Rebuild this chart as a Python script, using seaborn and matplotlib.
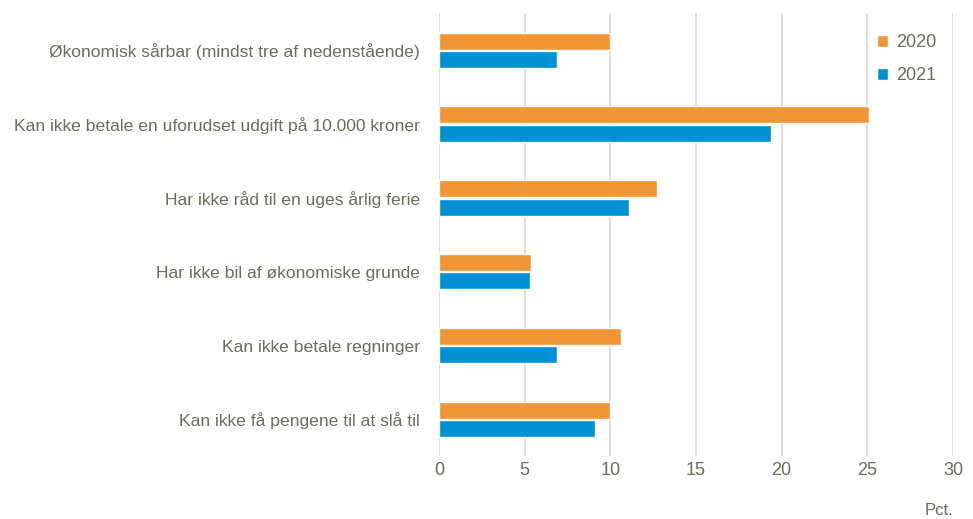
import pandas as pd
import matplotlib.pyplot as plt
import seaborn as sns

# data (percent)
categories = [
    "Økonomisk sårbar (mindst tre af nedenstående)",
    "Kan ikke betale en uforudset udgift på 10.000 kroner",
    "Har ikke råd til en uges årlig ferie",
    "Har ikke bil af økonomiske grunde",
    "Kan ikke betale regninger",
    "Kan ikke få pengene til at slå til",
]
years = ["2020", "2021"]
values_2020 = [10.0, 25.1, 12.7, 5.4, 10.6, 10.0]
values_2021 = [6.9, 19.4, 11.1, 5.3, 6.9, 9.1]

df = pd.DataFrame({
    "Kategori": categories * 2,
    "År": [years[0]] * len(categories) + [years[1]] * len(categories),
    "Pct": values_2020 + values_2021,
})

sns.set_style("white")
plt.rcParams['font.family'] = ['Liberation Sans Narrow', 'Liberation Sans', 'DejaVu Sans']
text_col = "#6b6b5e"

fig = plt.figure(figsize=(9.73, 5.19), dpi=100)
ax = fig.add_axes([0.451, 0.121, 0.5285, 0.853])

sns.barplot(data=df, y="Kategori", x="Pct", hue="År", orient="h",
            palette={"2020": "#f29536", "2021": "#0091d5"},
            width=0.5, gap=0.08, ax=ax, saturation=1)

ax.set_xlim(0, 30)
ax.set_xticks(range(0, 31, 5))
ax.grid(axis="x", color="#d9d9d9", linewidth=1.2)
ax.set_axisbelow(True)
for s in ax.spines.values():
    s.set_visible(False)
ax.set_xlabel("")
ax.set_ylabel("")
ax.tick_params(axis="y", length=0, pad=13.5, labelsize=12.6, labelcolor=text_col)
ax.tick_params(axis="x", length=0, pad=4, labelsize=13, labelcolor=text_col)

ax.text(1.0, -0.122, "Pct.", transform=ax.transAxes, ha="right", va="center",
        fontsize=12, color=text_col)

leg = ax.legend(loc="upper right", bbox_to_anchor=(1.0, 0.99), frameon=False,
                fontsize=13, handlelength=0.6, handleheight=0.6,
                handletextpad=0.5, labelspacing=0.9)
for t in leg.get_texts():
    t.set_color(text_col)

fig.savefig("out.png", dpi=100)
